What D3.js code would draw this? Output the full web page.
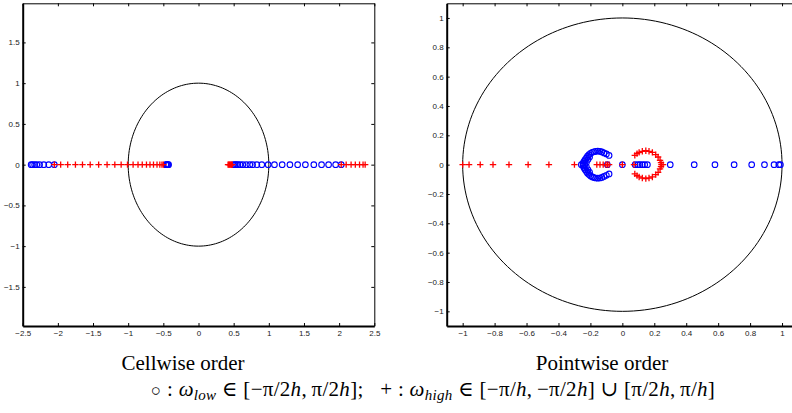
<!DOCTYPE html>
<html>
<head>
<meta charset="utf-8">
<script src="https://cdn.jsdelivr.net/npm/d3@7"></script>
<style>
  body { margin: 0; background: #fff; }
  svg { display: block; }
  .tick text { font-family: "Liberation Sans", Arial, sans-serif; font-size: 8px; fill: #222; }
  .caption { font-family: "Liberation Serif", "DejaVu Serif", serif; font-size: 21px; fill: #000; }
</style>
</head>
<body>
<script>
// Cellwise order: all eigenvalues are real
var cellLow = [-2.38, -2.36, -2.33, -2.30, -2.26, -2.20, -2.13, -2.05,
  -0.465, -0.455, -0.445, -0.435, -0.425,
  0.50, 0.52, 0.54, 0.56, 0.59, 0.63, 0.68, 0.73, 0.77, 0.83, 0.90, 0.99,
  1.08, 1.19, 1.30, 1.41, 1.52, 1.64, 1.75, 1.85, 1.95, 2.03];
var cellHigh = [-2.05, -1.96, -1.86, -1.75, -1.65, -1.54, -1.42, -1.30, -1.19,
  -1.10, -1.01, -0.93, -0.86, -0.80, -0.74, -0.69, -0.64, -0.59, -0.55, -0.52, -0.50,
  0.42, 0.43, 0.44, 0.45, 0.46, 0.47, 0.48,
  2.03, 2.10, 2.17, 2.23, 2.29, 2.34, 2.37];

// Pointwise order: real and imaginary parts
var pointLowRe = [-0.257, -0.245, -0.235, -0.094, 0, 0.08, 0.098, 0.11, 0.125, 0.14, 0.157,
  0.30, 0.45, 0.58, 0.70, 0.81, 0.89, 0.95, 0.98, 0.99,
  -0.083, -0.100, -0.115, -0.128, -0.140, -0.154, -0.167, -0.178, -0.188, -0.199,
  -0.209, -0.218, -0.225, -0.233, -0.240, -0.246, -0.225, -0.215, -0.205,
  -0.083, -0.100, -0.115, -0.128, -0.140, -0.154, -0.167, -0.178, -0.188, -0.199,
  -0.209, -0.218, -0.225, -0.233, -0.240, -0.246, -0.225, -0.215, -0.205];
var pointLowIm = [0, 0, 0, 0, 0, 0, 0, 0, 0, 0, 0,
  0, 0, 0, 0, 0, 0, 0, 0, 0,
  0.063, 0.073, 0.080, 0.087, 0.091, 0.092, 0.091, 0.088, 0.084, 0.077,
  0.068, 0.058, 0.046, 0.034, 0.022, 0.010, 0.015, 0.035, 0.052,
  -0.063, -0.073, -0.080, -0.087, -0.091, -0.092, -0.091, -0.088, -0.084, -0.077,
  -0.068, -0.058, -0.046, -0.034, -0.022, -0.010, -0.015, -0.035, -0.052];
var pointHighRe = [-1.0, -0.96, -0.89, -0.81, -0.71, -0.59, -0.46, -0.30,
  -0.16, -0.14, -0.12, -0.104, -0.094, -0.083, 0, 0.073, 0.245, 0.255,
  0.078, 0.092, 0.105, 0.125, 0.147, 0.167, 0.188, 0.209, 0.224, 0.236, 0.242,
  0.078, 0.092, 0.105, 0.125, 0.147, 0.167, 0.188, 0.209, 0.224, 0.236, 0.242];
var pointHighIm = [0, 0, 0, 0, 0, 0, 0, 0,
  0, 0, 0, 0, 0, 0, 0, 0, 0, 0,
  0.063, 0.075, 0.084, 0.091, 0.095, 0.091, 0.084, 0.068, 0.052, 0.029, 0.014,
  -0.063, -0.075, -0.084, -0.091, -0.095, -0.091, -0.084, -0.068, -0.052, -0.029, -0.014];

var cellXTicks = [-2.5, -2, -1.5, -1, -0.5, 0, 0.5, 1, 1.5, 2, 2.5];
var cellYTicks = [-1.5, -1, -0.5, 0, 0.5, 1, 1.5];
var pointTicks = [-1, -0.8, -0.6, -0.4, -0.2, 0, 0.2, 0.4, 0.6, 0.8, 1];

var W = 792, H = 413;
var svg = d3.select("body").append("svg").attr("width", W).attr("height", H);

var fmt = function (d) { return String(d).replace("-", "\u2212"); };

function panel(opt) {
  var x = d3.scaleLinear().domain(opt.xDomain).range([opt.left, opt.right]);
  var y = d3.scaleLinear().domain(opt.yDomain).range([opt.bottom, opt.top]);
  var g = svg.append("g");

  // inward ticks on all four sides
  g.append("g").attr("transform", "translate(0," + opt.bottom + ")")
    .call(d3.axisBottom(x).tickValues(opt.xTicks).tickFormat(fmt).tickSizeInner(-3).tickSizeOuter(0).tickPadding(4));
  g.append("g").attr("transform", "translate(0," + opt.top + ")")
    .call(d3.axisTop(x).tickValues(opt.xTicks).tickFormat("").tickSizeInner(-3).tickSizeOuter(0));
  g.append("g").attr("transform", "translate(" + opt.left + ",0)")
    .call(d3.axisLeft(y).tickValues(opt.yTicks).tickFormat(fmt).tickSizeInner(-3).tickSizeOuter(0).tickPadding(3));
  g.append("g").attr("transform", "translate(" + opt.right + ",0)")
    .call(d3.axisRight(y).tickValues(opt.yTicks).tickFormat("").tickSizeInner(-3).tickSizeOuter(0));
  g.selectAll(".tick line").attr("stroke", "#000");
  g.selectAll(".domain").attr("stroke", "#000").attr("stroke-width", 1);
  g.selectAll(".domain").filter(function (d, i) { return i === 0 || i === 2; }).attr("stroke-width", 2);

  // unit circle
  var circ = d3.range(0, 361, 2).map(function (a) {
    return [Math.cos(a * Math.PI / 180), Math.sin(a * Math.PI / 180)];
  });
  g.append("path")
    .attr("d", d3.line().x(function (d) { return x(d[0]); }).y(function (d) { return y(d[1]); })(circ))
    .attr("fill", "none").attr("stroke", "#000").attr("stroke-width", 1);

  g.selectAll(".low").data(opt.low).enter().append("circle")
    .attr("cx", function (d) { return x(d[0]); })
    .attr("cy", function (d) { return y(d[1]); })
    .attr("r", 2.8).attr("fill", "none").attr("stroke", "#0000ff").attr("stroke-width", 1.1);

  g.selectAll(".high").data(opt.high).enter().append("path")
    .attr("d", function (d) {
      var cx = x(d[0]), cy = y(d[1]), s = 3.2;
      return "M" + (cx - s) + "," + cy + "H" + (cx + s) + "M" + cx + "," + (cy - s) + "V" + (cy + s);
    })
    .attr("stroke", "#ff0000").attr("stroke-width", 1.3);
}

panel({
  left: 22.7, right: 374.3, top: 3.3, bottom: 326,
  xDomain: [-2.5, 2.5], yDomain: [-1.98, 1.98],
  xTicks: cellXTicks, yTicks: cellYTicks,
  low: cellLow.map(function (v) { return [v, 0]; }),
  high: cellHigh.map(function (v) { return [v, 0]; })
});

panel({
  left: 446.7, right: 798, top: 3.3, bottom: 326,
  xDomain: [-1.1, 1.1], yDomain: [-1.1, 1.1],
  xTicks: pointTicks, yTicks: pointTicks,
  low: pointLowRe.map(function (v, i) { return [v, pointLowIm[i]]; }),
  high: pointHighRe.map(function (v, i) { return [v, pointHighIm[i]]; })
});

svg.append("text").attr("class", "caption").attr("x", 183).attr("y", 370)
  .attr("text-anchor", "middle").text("Cellwise order");
svg.append("text").attr("class", "caption").attr("x", 602).attr("y", 370)
  .attr("text-anchor", "middle").text("Pointwise order");

var eq = svg.append("text").attr("class", "caption").attr("x", 433).attr("y", 396)
  .attr("text-anchor", "middle").style("letter-spacing", "0.3px");
eq.append("tspan").attr("font-size", "17px").text("\u25cb");
eq.append("tspan").text("\u00a0:\u00a0");
eq.append("tspan").attr("font-style", "italic").text("\u03c9");
eq.append("tspan").attr("font-style", "italic").attr("font-size", "15px").attr("dy", 4).text("low");
eq.append("tspan").attr("dy", -4).text("\u00a0\u2208\u00a0[\u2212\u03c0/2");
eq.append("tspan").attr("font-style", "italic").text("h");
eq.append("tspan").text(",\u2009\u03c0/2");
eq.append("tspan").attr("font-style", "italic").text("h");
eq.append("tspan").text("];\u00a0\u00a0\u00a0+\u00a0:\u00a0");
eq.append("tspan").attr("font-style", "italic").text("\u03c9");
eq.append("tspan").attr("font-style", "italic").attr("font-size", "15px").attr("dy", 4).text("high");
eq.append("tspan").attr("dy", -4).text("\u00a0\u2208\u00a0[\u2212\u03c0/");
eq.append("tspan").attr("font-style", "italic").text("h");
eq.append("tspan").text(",\u2009\u2212\u03c0/2");
eq.append("tspan").attr("font-style", "italic").text("h");
eq.append("tspan").text("]\u00a0\u222a\u00a0[\u03c0/2");
eq.append("tspan").attr("font-style", "italic").text("h");
eq.append("tspan").text(",\u2009\u03c0/");
eq.append("tspan").attr("font-style", "italic").text("h");
eq.append("tspan").text("]");
</script>
</body>
</html>
